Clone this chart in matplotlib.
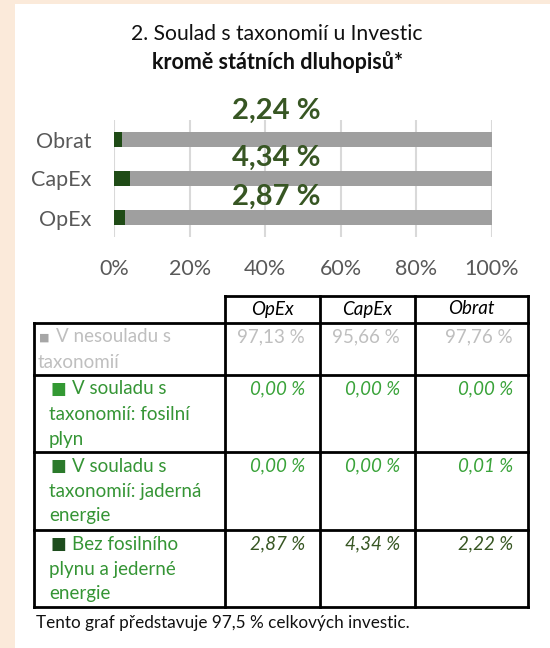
import matplotlib.pyplot as plt
from matplotlib.patches import Rectangle

plt.rcParams['font.family'] = ['Lato', 'DejaVu Sans']

# data
categories = ["OpEx", "CapEx", "Obrat"]
bez_fosil = [2.87, 4.34, 2.22]
jaderna = [0.00, 0.00, 0.01]
fosilni = [0.00, 0.00, 0.00]
nesoulad = [97.13, 95.66, 97.76]
bar_labels = ["2,87 %", "4,34 %", "2,24 %"]
ticks = [0, 20, 40, 60, 80, 100]

table_cols = ["OpEx", "CapEx", "Obrat"]
row_names = [
    ["V nesouladu s", "taxonomií"],
    ["V souladu s", "taxonomií: fosilní", "plyn"],
    ["V souladu s", "taxonomií: jaderná", "energie"],
    ["Bez fosilního", "plynu a jederné", "energie"],
]
row_values = [
    ["97,13 %", "95,66 %", "97,76 %"],
    ["0,00 %", "0,00 %", "0,00 %"],
    ["0,00 %", "0,00 %", "0,01 %"],
    ["2,87 %", "4,34 %", "2,22 %"],
]
footnote = "Tento graf představuje 97,5 % celkových investic."

c_gray = "#9f9f9f"
c_dark = "#1f4b16"
c_label = "#375623"
sq_colors = ["#a6a6a6", "#339933", "#2b7a2b", "#1e4d1e"]
txt_colors = ["#bfbfbf", "#359535", "#359535", "#359535"]
val_colors = ["#bfbfbf", "#3aa33a", "#3aa33a", "#375623"]

W, H = 550, 648
fig = plt.figure(figsize=(5.5, 6.48), dpi=100, facecolor="#fbeada")

# overlay in pixel coords
ov = fig.add_axes([0, 0, 1, 1], zorder=0)
ov.set_xlim(0, W), ov.set_ylim(H, 0), ov.axis("off")
ov.add_patch(Rectangle((15, 4), W - 15, H - 4, color="white", lw=0))

ov.text(277, 34, "2. Soulad s taxonomií u Investic", ha="center", va="center",
        fontsize=15.2, color="#111111")
ov.text(277, 62, "kromě státních dluhopisů*", ha="center", va="center",
        fontsize=15.5, fontweight="bold", color="#111111")

# bar chart
ax = fig.add_axes([114 / W, (H - 237) / H, 378 / W, 117 / H], zorder=1)
ax.set_facecolor("none")
ypos = range(len(categories))
left = [0] * len(categories)
for vals, col in [(bez_fosil, c_dark), (jaderna, sq_colors[2]),
                  (fosilni, sq_colors[1]), (nesoulad, c_gray)]:
    ax.barh(ypos, vals, left=left, height=0.36, color=col, zorder=3)
    left = [a + b for a, b in zip(left, vals)]

lab_off = [0.52, 0.54, 0.74]
for i, t in enumerate(bar_labels):
    ax.text(43, i + lab_off[i], t, ha="center", va="center", fontsize=21,
            fontweight="bold", color=c_label, zorder=4)

ax.set_xlim(0, 100)
ax.set_ylim(-0.5, 2.5)
ax.set_xticks(ticks)
ax.set_xticklabels([f"{t}%" for t in ticks])
ax.set_yticks(list(ypos))
ax.set_yticklabels(categories)
ax.tick_params(axis="both", length=0, labelsize=15.5, labelcolor="#595959")
ax.tick_params(axis="x", pad=16)
ax.tick_params(axis="y", pad=16)
ax.grid(axis="x", color="#d9d9d9", lw=1.5, zorder=0)
for s in ax.spines.values():
    s.set_visible(False)

# table
col_x = [34, 225, 320, 415, 528]
row_y = [296, 323, 375, 452, 530, 607]
lw = 2
fs = 13.5
ov.plot([col_x[1], col_x[-1]], [row_y[0]] * 2, color="black", lw=lw)
for y in row_y[1:]:
    ov.plot([col_x[0], col_x[-1]], [y, y], color="black", lw=lw)
for i, x in enumerate(col_x):
    y0 = row_y[1] if i == 0 else row_y[0]
    ov.plot([x, x], [y0, row_y[-1]], color="black", lw=lw)

for j, c in enumerate(table_cols):
    ov.text((col_x[j + 1] + col_x[j + 2]) / 2, 309, c, ha="center", va="center",
            fontsize=fs, style="italic", color="black")

for r, lines in enumerate(row_names):
    top = row_y[r + 1]
    y1 = top + 14
    if r == 0:
        ov.text(39, y1, "■", fontsize=8, color=sq_colors[r], va="center", ha="left")
        ov.text(56, y1, lines[0], fontsize=fs, color=txt_colors[r], va="center")
        xs = 38
    else:
        ov.text(50, y1, "■", fontsize=12, color=sq_colors[r], va="center", ha="left")
        ov.text(72, y1, lines[0], fontsize=fs, color=txt_colors[r], va="center")
        xs = 49
    for k, line in enumerate(lines[1:]):
        ov.text(xs, y1 + 25 * (k + 1), line, fontsize=fs, color=txt_colors[r],
                va="center")
    for j, v in enumerate(row_values[r]):
        ov.text(col_x[j + 2] - 15, y1, v, ha="right", va="center", fontsize=fs,
                style="normal" if r == 0 else "italic", color=val_colors[r])

ov.text(36, 623, footnote, fontsize=12.3, va="center", color="#111111")

fig.savefig("out.png", dpi=100, facecolor=fig.get_facecolor())
